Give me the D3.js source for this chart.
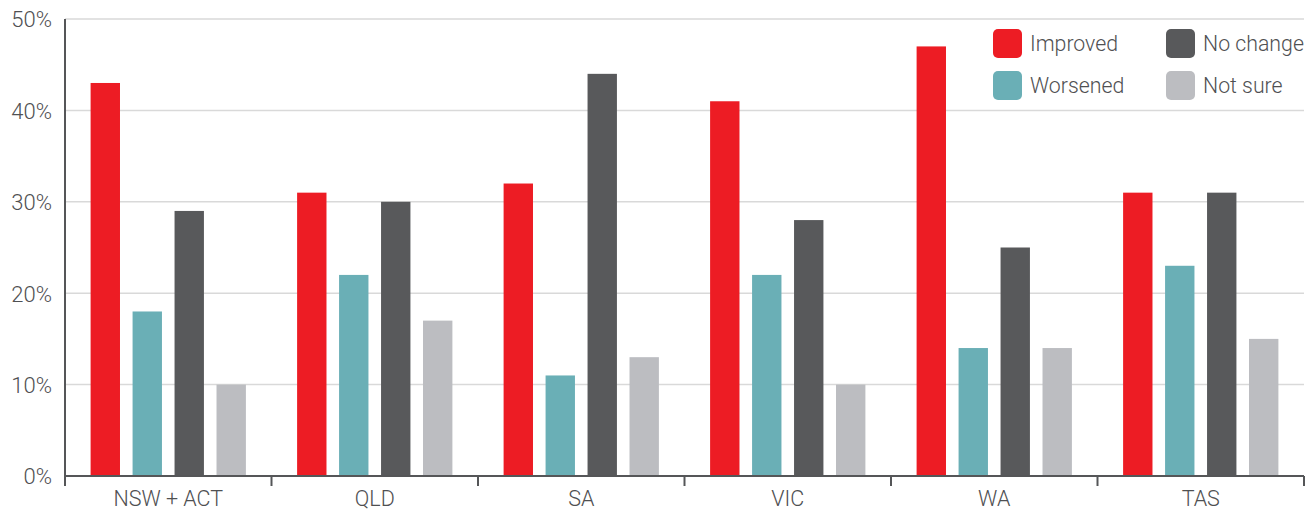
<!DOCTYPE html>
<html>
<head>
<meta charset="utf-8">
<script src="https://cdn.jsdelivr.net/npm/d3@7/dist/d3.min.js"></script>
<style>
  html, body { margin: 0; padding: 0; background: #fff; }
  svg { display: block; }
  text { font-family: "Roboto", "Liberation Sans", sans-serif; font-weight: 300; fill: #4f5052; }
</style>
</head>
<body>
<svg id="chart" width="1316" height="509"></svg>
<script>
// Regions along the x axis
const regions = ["NSW + ACT", "QLD", "SA", "VIC", "WA", "TAS"];
// Response categories (one bar per region each)
const seriesNames = ["Improved", "Worsened", "No change", "Not sure"];
const seriesColors = ["#ED1C24", "#6AAFB6", "#58595B", "#BCBDC1"];
// Share of respondents, percent, in region order
const improved = [43, 31, 32, 41, 47, 31];
const worsened = [18, 22, 11, 22, 14, 23];
const noChange = [29, 30, 44, 28, 25, 31];
const notSure  = [10, 17, 13, 10, 14, 15];
// Y axis ticks
const yTicks = [0, 10, 20, 30, 40, 50];

const seriesValues = [improved, worsened, noChange, notSure];
const rows = regions.map((r, i) => ({
  region: r,
  values: seriesNames.map((s, j) => ({ key: s, value: seriesValues[j][i], color: seriesColors[j] }))
}));

const svg = d3.select("#chart");
const margin = { left: 65, right: 12, top: 19, bottom: 33 };
const W = 1316, H = 509;
const x0 = d3.scaleBand().domain(regions).range([margin.left, W - margin.right]).paddingInner(0).paddingOuter(0);
const x1 = d3.scaleBand().domain(seriesNames).range([0, x0.bandwidth()]).paddingInner(0.3).paddingOuter(0.61);
const y = d3.scaleLinear().domain([0, 50]).range([H - margin.bottom, margin.top]);

// Gridlines
svg.append("g").selectAll("line").data(yTicks.filter(t => t > 0)).join("line")
  .attr("x1", margin.left).attr("x2", W - margin.right)
  .attr("y1", d => y(d)).attr("y2", d => y(d))
  .attr("stroke", "#d9d9d9").attr("stroke-width", 1.5);

// Bars
svg.append("g").selectAll("g").data(rows).join("g")
  .attr("transform", d => `translate(${x0(d.region)},0)`)
  .selectAll("rect").data(d => d.values).join("rect")
  .attr("x", d => x1(d.key))
  .attr("width", x1.bandwidth())
  .attr("y", d => y(d.value))
  .attr("height", d => y(0) - y(d.value))
  .attr("fill", d => d.color);

// Y axis
const yAxis = svg.append("g").attr("transform", `translate(${margin.left},0)`)
  .call(d3.axisLeft(y).tickValues(yTicks).tickFormat(d => d + "%").tickSize(0).tickPadding(13));
yAxis.select(".domain").remove();
yAxis.selectAll("text").style("font-size", "22px").attr("dy", "0.36em");
svg.append("line")
  .attr("x1", margin.left).attr("x2", margin.left)
  .attr("y1", y(50)).attr("y2", y(0) + 10)
  .attr("stroke", "#555658").attr("stroke-width", 2);

// X axis with boundary ticks
const xg = svg.append("g");
xg.append("line")
  .attr("x1", margin.left).attr("x2", W - margin.right)
  .attr("y1", y(0)).attr("y2", y(0))
  .attr("stroke", "#555658").attr("stroke-width", 2);
const bounds = regions.map(r => x0(r)).concat([W - margin.right]);
xg.selectAll("line.tick").data(bounds).join("line")
  .attr("class", "tick")
  .attr("x1", d => d).attr("x2", d => d)
  .attr("y1", y(0)).attr("y2", y(0) + 10)
  .attr("stroke", "#555658").attr("stroke-width", 2);
xg.selectAll("text").data(regions).join("text")
  .attr("x", d => x0(d) + x0.bandwidth() / 2)
  .attr("y", y(0) + 30)
  .attr("text-anchor", "middle")
  .style("font-size", "21.5px")
  .text(d => d);

// Legend
const legend = svg.append("g");
const legendPos = [[993, 29], [993, 71], [1166, 29], [1166, 71]];
seriesNames.forEach((name, j) => {
  const [lx, ly] = legendPos[j];
  legend.append("rect").attr("x", lx).attr("y", ly).attr("width", 29).attr("height", 29)
    .attr("rx", 5).attr("fill", seriesColors[j]);
  legend.append("text").attr("x", lx + 37).attr("y", ly + 14.5).attr("dy", "0.36em")
    .style("font-size", "21.3px").text(name);
});
</script>
</body>
</html>
